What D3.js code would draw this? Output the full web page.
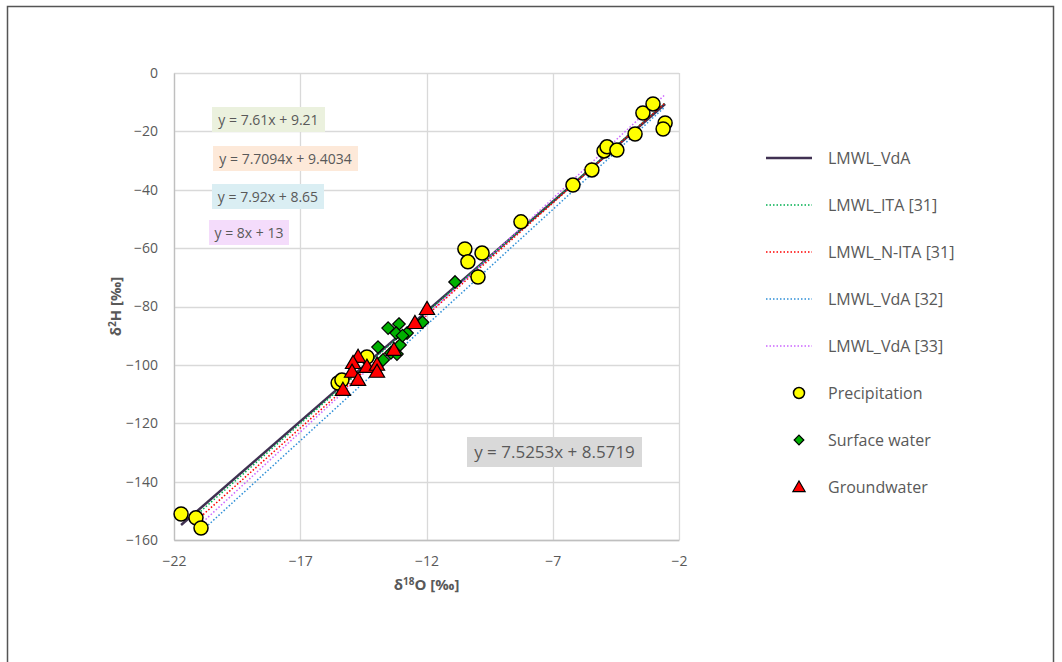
<!DOCTYPE html>
<html>
<head>
<meta charset="utf-8">
<script src="https://cdn.jsdelivr.net/npm/d3@7"></script>
<style>
  body { margin: 0; background: #fff; }
  svg text { font-family: "Open Sans", "Noto Sans", sans-serif; }
</style>
</head>
<body>
<svg id="canvas"></svg>
<script>
let width = 1062;
let height = 662;

// tick values
const xTicks = [-22, -17, -12, -7, -2];
const yTicks = [0, -20, -40, -60, -80, -100, -120, -140, -160];

// samples (d18O, d2H)
const precipX = [-21.72, -21.13, -20.93, -15.5, -15.35, -14.36, -10.48, -9.8, -10.36, -9.96, -8.26, -6.2, -5.45, -4.97, -4.85, -4.46, -3.74, -3.43, -3.03, -2.55, -2.63];
const precipY = [-151.1, -152.4, -155.9, -106.2, -105.2, -97.3, -60.3, -61.7, -64.7, -69.9, -51.0, -38.4, -33.2, -26.7, -25.3, -26.4, -20.9, -13.7, -10.6, -17.1, -19.2];

const surfX = [-10.87, -12.16, -13.09, -13.52, -13.2, -12.77, -13.92, -13.05, -13.41, -13.72, -13.17, -12.95];
const surfY = [-71.6, -85.4, -86.0, -87.4, -89.1, -89.1, -93.9, -93.2, -95.9, -98.3, -96.3, -90.0];

const groundX = [-11.98, -12.46, -13.29, -14.71, -14.91, -14.36, -13.96, -13.96, -14.95, -14.71, -15.31];
const groundY = [-80.9, -85.7, -94.9, -97.3, -99.4, -100.7, -100.0, -102.4, -102.4, -105.2, -108.6];

// meteoric water lines: slope, intercept, x range
const lineNames = ['LMWL_VdA', 'LMWL_ITA [31]', 'LMWL_N-ITA [31]', 'LMWL_VdA [32]', 'LMWL_VdA [33]'];
const lineSlopes = [7.5253, 7.61, 7.7094, 7.92, 8];
const lineIntercepts = [8.5719, 9.21, 9.4034, 8.65, 13];
const lineStart = [-21.72, -21.05, -20.95, -20.75, -20.85];
const lineEnd = [-2.55, -2.55, -2.55, -2.55, -2.55];
const lineColors = ['#403152', '#00b050', '#ff0000', '#2e8fd8', '#cc66ff'];

const eqLabels = ['y = 7.61x + 9.21', 'y = 7.7094x + 9.4034', 'y = 7.92x + 8.65', 'y = 8x + 13'];
const eqColors = ['#ebf1de', '#fde9d9', '#daeef3', '#f4dcfb'];

let canvas = d3.select('#canvas').attr('width', width).attr('height', height);

// outer frame
canvas.append('path')
  .attr('d', `M7.5,${height} V6.5 H1053.5 V${height}`)
  .attr('fill', 'none').attr('stroke', '#555').attr('stroke-width', 1.5);

let xScale = d3.scaleLinear().domain([-22, -2]).range([174, 679]);
let yScale = d3.scaleLinear().domain([-160, 0]).range([540, 73]);

let fmt = (v) => (v < 0 ? '\u2212' + Math.abs(v) : '' + v);

// grid
canvas.append('g').selectAll('line').data(yTicks).enter().append('line')
  .attr('x1', xScale(-22)).attr('x2', xScale(-2))
  .attr('y1', (d) => Math.round(yScale(d)) + 0.5).attr('y2', (d) => Math.round(yScale(d)) + 0.5)
  .attr('stroke', '#d9d9d9').attr('stroke-width', 1.3);
canvas.append('g').selectAll('line').data(xTicks).enter().append('line')
  .attr('y1', yScale(-160)).attr('y2', yScale(0))
  .attr('x1', (d) => Math.round(xScale(d)) + 0.5).attr('x2', (d) => Math.round(xScale(d)) + 0.5)
  .attr('stroke', '#d9d9d9').attr('stroke-width', 1.3);

// axes
let xAxis = d3.axisBottom(xScale).tickValues(xTicks).tickSize(0).tickPadding(16).tickFormat(fmt);
let yAxis = d3.axisLeft(yScale).tickValues(yTicks).tickSize(0).tickPadding(16).tickFormat(fmt);
canvas.append('g').attr('transform', `translate(0, ${yScale(-160)})`).call(xAxis);
canvas.append('g').attr('transform', `translate(${xScale(-22)}, 0)`).call(yAxis);
canvas.selectAll('.domain').attr('stroke', '#bfbfbf').attr('stroke-width', 1.3);
canvas.selectAll('.tick text').attr('fill', '#595959').style('font-size', '14px');

canvas.append('text')
  .attr('x', xScale(-12)).attr('y', 590).attr('text-anchor', 'middle')
  .attr('fill', '#595959').style('font-size', '15px').style('font-weight', 'bold')
  .html('δ<tspan dy="-5" font-size="10">18</tspan><tspan dy="5">O [‰]</tspan>');
canvas.append('text')
  .attr('transform', `translate(121, ${yScale(-80)}) rotate(-90)`).attr('text-anchor', 'middle')
  .attr('fill', '#595959').style('font-size', '15px').style('font-weight', 'bold')
  .html('δ<tspan dy="-5" font-size="10">2</tspan><tspan dy="5">H [‰]</tspan>');

// lines
lineNames.forEach((name, i) => {
  let pts = [lineStart[i], lineEnd[i]].map((x) => [xScale(x), yScale(lineSlopes[i] * x + lineIntercepts[i])]);
  canvas.append('path')
    .attr('d', d3.line()(pts))
    .attr('fill', 'none')
    .attr('stroke', lineColors[i])
    .attr('stroke-width', i === 0 ? 2.5 : 1.5)
    .attr('stroke-dasharray', i === 0 ? null : '1.5,2');
});

// markers
let diamond = d3.symbol().type(d3.symbolDiamond2).size(100);
let triangle = d3.symbol().type(d3.symbolTriangle).size(100);

canvas.append('g').selectAll('path').data(d3.range(surfX.length)).enter().append('path')
  .attr('d', diamond)
  .attr('transform', (i) => `translate(${xScale(surfX[i])}, ${yScale(surfY[i])})`)
  .attr('fill', '#00b000').attr('stroke', '#000').attr('stroke-width', 1.2);

canvas.append('g').selectAll('circle').data(d3.range(precipX.length)).enter().append('circle')
  .attr('cx', (i) => xScale(precipX[i])).attr('cy', (i) => yScale(precipY[i])).attr('r', 7)
  .attr('fill', '#ffff00').attr('stroke', '#000').attr('stroke-width', 1.5);

canvas.append('g').selectAll('path').data(d3.range(groundX.length)).enter().append('path')
  .attr('d', triangle)
  .attr('transform', (i) => `translate(${xScale(groundX[i])}, ${yScale(groundY[i]) + 1})`)
  .attr('fill', '#ff0000').attr('stroke', '#000').attr('stroke-width', 1.2);

// equation labels
let eqBoxes = [[212, 107, 113, 25], [213, 146, 145, 25], [212, 184, 112, 25], [209, 220, 80, 25]];
eqLabels.forEach((t, i) => {
  let b = eqBoxes[i];
  canvas.append('rect').attr('x', b[0]).attr('y', b[1]).attr('width', b[2]).attr('height', b[3]).attr('fill', eqColors[i]);
  canvas.append('text').attr('x', b[0] + b[2] / 2).attr('y', b[1] + 18).attr('text-anchor', 'middle')
    .attr('fill', '#595959').style('font-size', '14px').text(t);
});
canvas.append('rect').attr('x', 467).attr('y', 437).attr('width', 175).attr('height', 30).attr('fill', '#d9d9d9');
canvas.append('text').attr('x', 554.5).attr('y', 458).attr('text-anchor', 'middle')
  .attr('fill', '#595959').style('font-size', '17px').text('y = 7.5253x + 8.5719');

// legend
let legendNames = lineNames.concat(['Precipitation', 'Surface water', 'Groundwater']);
let legend = canvas.append('g');
legendNames.forEach((name, i) => {
  let y = 158 + i * 47;
  if (i < 5) {
    legend.append('line').attr('x1', 766).attr('x2', 812).attr('y1', y).attr('y2', y)
      .attr('stroke', lineColors[i])
      .attr('stroke-width', i === 0 ? 2.5 : 1.5)
      .attr('stroke-dasharray', i === 0 ? null : '1.5,2');
  } else if (i === 5) {
    legend.append('circle').attr('cx', 799).attr('cy', y).attr('r', 5.5)
      .attr('fill', '#ffff00').attr('stroke', '#000').attr('stroke-width', 1.5);
  } else if (i === 6) {
    legend.append('path').attr('d', d3.symbol().type(d3.symbolDiamond2).size(60))
      .attr('transform', `translate(799, ${y})`)
      .attr('fill', '#00b000').attr('stroke', '#000').attr('stroke-width', 1.2);
  } else {
    legend.append('path').attr('d', d3.symbol().type(d3.symbolTriangle).size(65))
      .attr('transform', `translate(799, ${y + 1})`)
      .attr('fill', '#ff0000').attr('stroke', '#000').attr('stroke-width', 1.2);
  }
  legend.append('text').attr('x', 828).attr('y', y + 6)
    .attr('fill', '#595959').style('font-size', '16px').text(name);
});
</script>
</body>
</html>
